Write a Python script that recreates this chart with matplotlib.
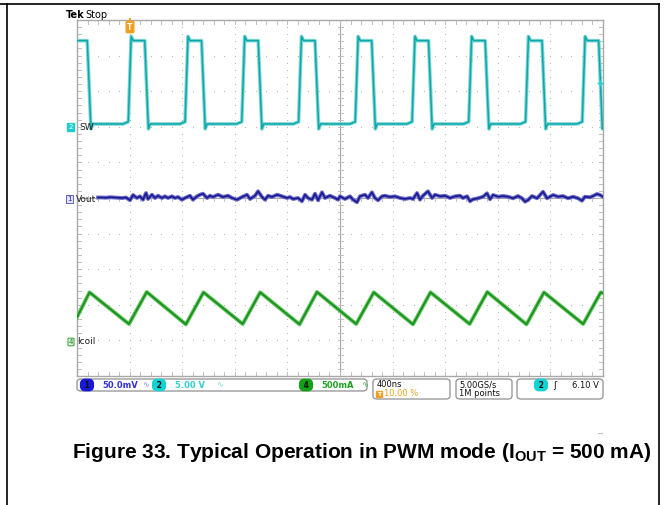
import numpy as np
import matplotlib
matplotlib.use('Agg')
import matplotlib.pyplot as plt
from matplotlib.patches import FancyBboxPatch
from matplotlib.lines import Line2D

W, H = 664, 505

# scope settings
TIME_DIV_NS = 400
SW_V_DIV, SW_OFFSET = 5.0, 2.0          # ch2
VOUT_MV_DIV, VOUT_OFFSET = 50.0, 0.0    # ch1 (AC)
ICOIL_MA_DIV, ICOIL_OFFSET = 500.0, -4.05  # ch4
TRIG_LEVEL_V = 6.10

# SW node (ch2) - edge times, ns from left edge
sw_rise_ns = [390, 822, 1253, 1685, 2116, 2548, 2979, 3411, 3842]
sw_fall_ns = [78, 515, 947, 1378, 1810, 2241, 2673, 3104, 3536, 3967]
sw_high_v = 12.1
sw_overshoot_v = 12.7
sw_low_v = 0.4
sw_low_end_v = 0.7
sw_dip_v = -0.3
RISE_NS, FALL_NS = 22, 28

# Vout ripple (ch1), mV
vout_t_ns = [160, 190, 221, 251, 281, 312, 342, 373, 403, 426, 456, 479, 502, 525, 540,
             570, 593, 616, 646, 669, 692, 722, 745, 768, 798, 821, 859, 882, 913, 935,
             958, 989, 1011, 1034, 1072, 1110, 1148, 1179, 1217, 1255, 1293, 1316, 1354,
             1377, 1407, 1430, 1453, 1483, 1521, 1559, 1597, 1620, 1643, 1681, 1711, 1734,
             1757, 1787, 1810, 1833, 1863, 1886, 1924, 1962, 1985, 2000, 2038, 2076, 2099,
             2129, 2152, 2190, 2213, 2243, 2266, 2289, 2319, 2342, 2380, 2418, 2456, 2494,
             2532, 2555, 2586, 2608, 2631, 2669, 2700, 2723, 2761, 2799, 2837, 2875, 2913,
             2935, 2966, 2989, 3012, 3050, 3088, 3118, 3141, 3164, 3202, 3240, 3278, 3316,
             3354, 3384, 3407, 3430, 3460, 3498, 3521, 3544, 3574, 3597, 3620, 3658, 3696,
             3734, 3772, 3810, 3840, 3863, 3901, 3924, 3955, 3977, 4000]
vout_mv = [0.7, 0.7, 0.4, 1.1, 0.7, 0.4, 0.0, 0.7, -3.2, 4.2, 0.0, 2.4, -2.4, 7.0, -1.4,
           4.6, 0.0, 3.2, 0.0, 2.4, 0.0, 2.4, 0.0, 1.4, -2.4, 0.0, 3.2, -2.4, 2.4, 4.6,
           6.0, 0.0, 3.2, 1.4, 4.6, 1.4, 3.2, 0.0, -2.4, 1.4, 4.6, -1.4, 3.2,
           9.4, 1.4, -2.4, 3.2, 1.4, 4.6, 2.4, 0.0, 1.4, -1.4, 0.0, -4.6, 4.6,
           0.0, -2.4, 6.0, -3.2, 8.0, 0.0, 3.2, 0.0, -2.4, 2.4, -1.4, 2.4, -2.4,
           -6.0, 2.4, 4.6, 0.0, 8.0, 0.0, -3.2, 2.4, 3.2, 1.4, 2.4, 0.0, -1.4,
           0.0, -1.4, 7.0, -2.4, 3.2, 9.4, 0.0, 4.6, 2.4, 3.2, 0.0, 2.4, 3.2,
           0.0, 2.4, -4.6, -1.8, -0.4, 1.8, 6.6, -1.8, 4.2, 1.8, 2.8, 1.8, -0.4,
           2.8, -0.4, -5.2, -2.8, 2.8, -0.4, 4.2, 8.8, -0.4, 1.8, 4.2, 1.8, 2.8,
           -0.4, 1.8, -0.4, -3.8, 1.8, 1.0, 2.8, 5.6, 4.2, 1.8]

# inductor current (ch4), triangle vertices
icoil_t_ns = [0, 95, 395, 530, 828, 962, 1260, 1393, 1692, 1825, 2123, 2257, 2555,
              2688, 2986, 3120, 3418, 3551, 3849, 3983, 4000]
icoil_ma = [350, 700, 255, 705, 250, 700, 255, 700, 250, 705, 255, 700, 250,
            700, 255, 705, 250, 700, 255, 700, 690]


def fx(x):
    return x / W


def fy(y):
    return 1 - y / H


def sw_trace():
    t, v = [0], [sw_high_v]
    edges = sorted([(f, 'f') for f in sw_fall_ns] + [(r, 'r') for r in sw_rise_ns])
    for te, kind in edges:
        if kind == 'f':
            t += [te, te + FALL_NS, te + FALL_NS + 14]
            v += [sw_high_v, sw_dip_v, sw_low_v]
        else:
            t += [te - 40, te, te + RISE_NS, te + RISE_NS + 16]
            v += [sw_low_v, sw_low_end_v, sw_overshoot_v, sw_high_v]
    return np.array(t), np.array(v)


fig = plt.figure(figsize=(W / 100, H / 100), dpi=100)
fig.patch.set_facecolor('white')

# page frame
frame = dict(color='black', lw=1.2, transform=fig.transFigure)
fig.add_artist(Line2D([0, fx(659)], [fy(4), fy(4)], **frame))
fig.add_artist(Line2D([fx(7), fx(7)], [fy(4), 0], **frame))
fig.add_artist(Line2D([fx(659), fx(659)], [fy(4), 0], **frame))

ax = fig.add_axes([fx(77), fy(376), 526 / W, 356 / H])
ax.set_xlim(0, 10 * TIME_DIV_NS)
ax.set_ylim(-5, 5)
ax.set_xticks([])
ax.set_yticks([])
for s in ax.spines.values():
    s.set_color('#a8a8a8')
    s.set_linewidth(1.0)

# graticule
gcol = '#b8b8b8'
tcol = '#c0c0c0'
xs_sub = np.arange(0, 4001, 80)
ys_sub = np.arange(-5, 5.001, 0.2)
for k in range(1, 10):
    if k != 5:
        ax.plot([k * 400] * len(ys_sub), ys_sub, ls='none', marker='s', ms=0.8,
                color=gcol, mec='none', zorder=1)
for j in range(-4, 5):
    if j != 0:
        ax.plot(xs_sub, [j] * len(xs_sub), ls='none', marker='s', ms=0.8,
                color=gcol, mec='none', zorder=1)
ax.axvline(2000, color='#a8a8a8', lw=0.8, zorder=1)
ax.axhline(0, color='#a8a8a8', lw=0.8, zorder=1)
hx = 2.5 * 4000 / 526
hy = 2.5 / 35.6
for y in ys_sub:
    ax.plot([2000 - hx, 2000 + hx], [y, y], color=tcol, lw=0.7, zorder=1)
    ax.plot([0, 1.6 * hx], [y, y], color=tcol, lw=0.7, zorder=1)
    ax.plot([4000 - 1.6 * hx, 4000], [y, y], color=tcol, lw=0.7, zorder=1)
for x in xs_sub:
    ax.plot([x, x], [-hy, hy], color=tcol, lw=0.7, zorder=1)
    ax.plot([x, x], [5 - 1.6 * hy, 5], color=tcol, lw=0.7, zorder=1)
    ax.plot([x, x], [-5, -5 + 1.6 * hy], color=tcol, lw=0.7, zorder=1)

# traces
t_sw, v_sw = sw_trace()
y_sw = SW_OFFSET + v_sw / SW_V_DIV
ax.plot(t_sw, y_sw, color='#80d6d6', lw=2.6, zorder=3)
ax.plot(t_sw, y_sw, color='#0aa8a8', lw=1.1, zorder=4)

y_vo = VOUT_OFFSET + np.array(vout_mv) / VOUT_MV_DIV
ax.plot(vout_t_ns, y_vo, color='#6b6bcc', lw=2.8, zorder=3)
ax.plot(vout_t_ns, y_vo, color='#1a1a8e', lw=1.2, zorder=4)

y_il = ICOIL_OFFSET + np.array(icoil_ma) / ICOIL_MA_DIV
ax.plot(icoil_t_ns, y_il, color='#62c262', lw=2.8, zorder=3)
ax.plot(icoil_t_ns, y_il, color='#169016', lw=1.2, zorder=4)

# trigger level marker
ax.plot(3980, SW_OFFSET + TRIG_LEVEL_V / SW_V_DIV, marker='+', ms=5, mew=1,
        color='#20d0d0', clip_on=False, zorder=5)

# header
fig.text(fx(66), fy(15), 'Tek', fontsize=7, fontweight='bold', va='center')
fig.text(fx(85), fy(15), 'Stop', fontsize=7, va='center')
fig.text(fx(130), fy(27), 'T', fontsize=5.5, fontweight='bold', color='white',
         ha='center', va='center',
         bbox=dict(boxstyle='round,pad=0.15', fc='#f0a020', ec='#f0a020'))
fig.add_artist(Line2D([fx(130), fx(130)], [fy(19), fy(22)], color='#f0a020', lw=1.5,
                      transform=fig.transFigure))

# channel labels on the left
fig.text(fx(70.5), fy(127), '2', fontsize=5, color='white', ha='center', va='center',
         bbox=dict(boxstyle='square,pad=0.12', fc='#20cccc', ec='#20cccc'))
fig.text(fx(79), fy(127), 'SW', fontsize=6.5, va='center', color='#222222')
fig.text(fx(69.5), fy(199), '1', fontsize=5, color='#2020a0', ha='center', va='center',
         bbox=dict(boxstyle='square,pad=0.12', fc='#e4e4ff', ec='#6060c0', lw=0.7))
fig.text(fx(76), fy(199), 'Vout', fontsize=6.5, va='center', color='#222222')
fig.text(fx(71), fy(342), '4', fontsize=5, color='#108010', ha='center', va='center',
         bbox=dict(boxstyle='round,pad=0.12', fc='#e4f6e4', ec='#30a030', lw=0.7))
fig.text(fx(77), fy(342), 'Icoil', fontsize=6.5, va='center', color='#222222')


# status bar
def box(x0, y0, x1, y1):
    p = FancyBboxPatch((fx(x0), fy(y1)), fx(x1) - fx(x0), fy(y0) - fy(y1),
                       boxstyle='round,pad=0,rounding_size=0.006', fc='white',
                       ec='#909090', lw=0.9, transform=fig.transFigure)
    fig.add_artist(p)


def badge(x, y, s, fc):
    fig.text(fx(x), fy(y), ' ' + s + ' ', fontsize=5.5, fontweight='bold', color='#101010',
             ha='center', va='center',
             bbox=dict(boxstyle='round,pad=0.15,rounding_size=0.6', fc=fc, ec=fc))


box(77, 379, 367, 391)
badge(87, 385, '1', '#1818d8')
fig.text(fx(102), fy(385), '50.0mV', fontsize=6, fontweight='bold', color='#3030e0', va='center')
fig.text(fx(142), fy(385), '∿', fontsize=6, color='#8080f0', va='center')
badge(159, 385, '2', '#10d4d4')
fig.text(fx(175), fy(385), '5.00 V', fontsize=6, fontweight='bold', color='#30d0d0', va='center')
fig.text(fx(216), fy(385), '∿', fontsize=6, color='#70dada', va='center')
badge(306, 385, '4', '#14a014')
fig.text(fx(321), fy(385), '500mA', fontsize=6, fontweight='bold', color='#20a020', va='center')
fig.text(fx(361), fy(385), '∿', fontsize=6, color='#40b040', va='center')

box(373, 379, 450, 399)
fig.text(fx(377), fy(384.5), '400ns', fontsize=6, color='#101010', va='center')
fig.text(fx(379), fy(394), 'T', fontsize=4.5, fontweight='bold', color='white',
         ha='center', va='center',
         bbox=dict(boxstyle='square,pad=0.12', fc='#f0a020', ec='#f0a020'))
fig.text(fx(384), fy(394), '10.00 %', fontsize=6, color='#f0a020', va='center')

box(456, 379, 512, 399)
fig.text(fx(459), fy(384.5), '5.00GS/s', fontsize=6, color='#101010', va='center')
fig.text(fx(459), fy(394), '1M points', fontsize=6, color='#101010', va='center')

box(517, 379, 603, 399)
badge(541, 385, '2', '#10d4d4')
fig.text(fx(555), fy(385), 'ʃ', fontsize=6.5, color='#101010', va='center', ha='center')
fig.text(fx(572), fy(385), '6.10 V', fontsize=6, color='#101010', va='center')

fig.add_artist(Line2D([fx(598), fx(602)], [fy(433), fy(433)], color='#c0c0c0', lw=0.8,
                      transform=fig.transFigure))

# caption
plt.rcParams['mathtext.fontset'] = 'custom'
plt.rcParams['mathtext.bf'] = 'Liberation Sans:bold'
plt.rcParams['mathtext.rm'] = 'Liberation Sans:bold'
fig.text(fx(362), fy(452), r'Figure 33. Typical Operation in PWM mode (I$_{\mathrm{OUT}}$ = 500 mA)',
         fontsize=15, fontweight='bold', family='Liberation Sans', ha='center', va='center')

fig.savefig('out.png', dpi=100, facecolor='white')
